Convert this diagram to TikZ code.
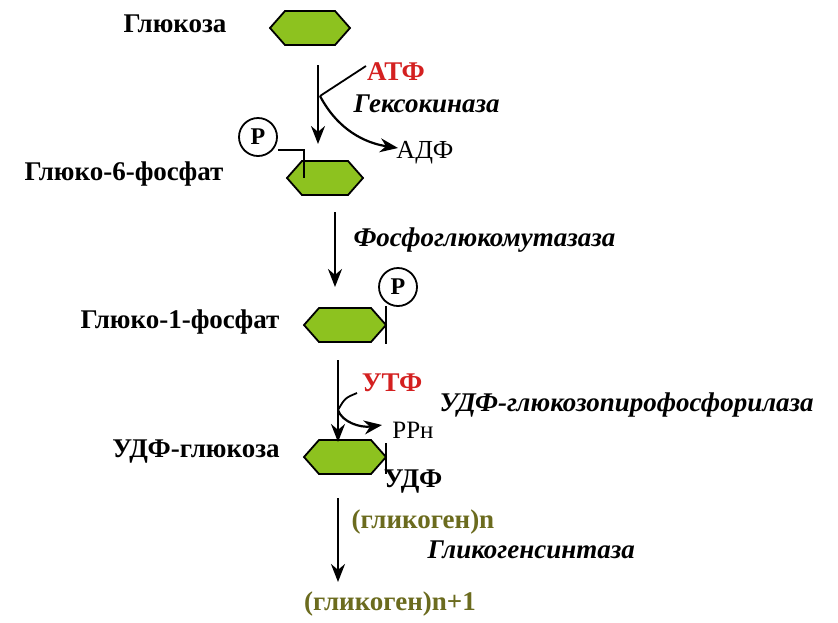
\documentclass[tikz,border=0pt]{standalone}
\usepackage{fontspec}
\setmainfont{Liberation Serif}
\usetikzlibrary{arrows.meta}
\definecolor{hexg}{HTML}{8DC21F}
\definecolor{olive}{HTML}{6B6B1E}
\definecolor{redt}{HTML}{D42020}
\tikzset{
  lbl/.style={font=\bfseries\fontsize{27}{30}\selectfont},
  enz/.style={font=\bfseries\itshape\fontsize{27}{30}\selectfont, anchor=west},
  arr/.style={line width=2.2pt, -{Stealth[length=18pt,width=14pt]}},
  thin/.style={line width=1.8pt},
  pcirc/.style={circle, draw, line width=1.8pt, minimum size=38pt, inner sep=0pt, font=\bfseries\fontsize{24}{26}\selectfont},
}
\newcommand{\hexa}[4]{% name, cx, cy, halfwidth
  \fill[hexg,draw=black,line width=1.8pt] (#2-#4,#3) -- (#2-#4+15,#3-17) -- (#2+#4-15,#3-17) -- (#2+#4,#3) -- (#2+#4-15,#3+17) -- (#2-#4+15,#3+17) -- cycle;
  \coordinate (#1) at (#2,#3);
}
\begin{document}
\begin{tikzpicture}[x=1pt,y=-1pt]
\useasboundingbox (0,0) rectangle (838,622);
\fill[white] (0,0) rectangle (838,622);
% hexagons
\hexa{h1}{310}{28}{40}
\hexa{h2}{325}{178}{38}
\hexa{h3}{345}{325}{41}
\hexa{h4}{345}{457}{41}
% labels
\node[lbl] (t1) at (175,24) {Глюкоза};
\node[lbl] (t2) at (124,174) {Глюко-6-фосфат};
\node[lbl] (t3) at (180,322) {Глюко-1-фосфат};
\node[lbl] (t4) at (196,452) {УДФ-глюкоза};
% step 1
\coordinate (a1s) at (318,65);
\coordinate (a1e) at (318,144);
\draw[arr] (a1s) -- (a1e);
\node[lbl, text=redt] (atf) at (396,72) {АТФ};
\node[enz] (hk) at (350,104) {Гексокиназа};
\node[font=\fontsize{26}{28}\selectfont] (adf) at (425,153) {АДФ};
\coordinate (b1) at (320,96);
\coordinate (b1a) at (366,66);
\coordinate (b1c) at (398,148);
\draw[thin] (b1a) -- (b1);
\draw[arr] (b1) .. controls (338,130) and (365,143) .. (b1c);
\node[pcirc] (p1) at (258,137) {P};
\coordinate (pl1) at (304,150);
\coordinate (pl1e) at (304,178);
\draw[thin] (p1.east|-0,150) -- (pl1) -- (pl1e);
% step 2
\coordinate (a2s) at (335,212);
\coordinate (a2e) at (335,287);
\draw[arr] (a2s) -- (a2e);
\node[enz] (pgm) at (350,240) {Фосфоглюкомутазаза};
\node[pcirc] (p2) at (398,287) {P};
\coordinate (pl2e) at (386,344);
\draw[thin] (386,306) -- (pl2e);
% step 3
\coordinate (a3s) at (338,360);
\coordinate (a3e) at (338,442);
\draw[arr] (a3s) -- (a3e);
\node[lbl, text=redt] (utf) at (392,383) {УТФ};
\node[enz] (udpase) at (436,405) {УДФ-глюкозопирофосфорилаза};
\coordinate (b3) at (338,410);
\coordinate (b3a) at (357,393);
\coordinate (b3c) at (382,425);
\draw[thin] (b3a) .. controls (345,398) .. (b3);
\draw[arr] (b3) .. controls (342,422) and (360,428) .. (b3c);
\node[font=\fontsize{25}{27}\selectfont] (ppn) at (413,430) {PP\textsc{н}};
\coordinate (pl3e) at (386,474);
\draw[thin] (386,443) -- (pl3e);
\node[lbl] (udf) at (413,482) {УДФ};
% step 4
\coordinate (a4s) at (338,498);
\coordinate (a4e) at (338,582);
\draw[arr] (a4s) -- (a4e);
\node[lbl, text=olive, anchor=west] (g1) at (348,522) {(гликоген)n};
\node[enz] (gs) at (424,550) {Гликогенсинтаза};
\node[lbl, text=olive] (g2) at (390,604) {(гликоген)n+1};
\end{tikzpicture}
\end{document}
